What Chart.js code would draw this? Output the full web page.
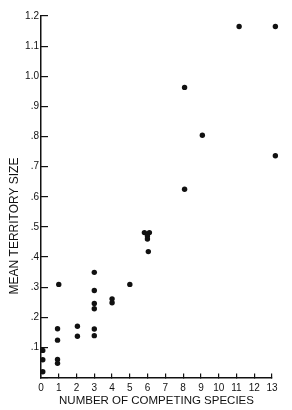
<!DOCTYPE html>
<html>
<head>
<meta charset="utf-8">
<script src="https://cdn.jsdelivr.net/npm/chart.js@4/dist/chart.umd.min.js"></script>
<style>
    html, body { margin: 0; padding: 0; background: #ffffff; }
    #territory_chart_box { width: 292px; height: 410px; }
</style>
</head>
<body>
<div id="territory_chart_box"><canvas id="territory_chart" width="292" height="410"></canvas></div>
<script>
// number of competing species (x) and mean territory size (y)
const competing_species = [
    0.1, 0.1, 0.1,
    1.0, 0.93, 0.93, 0.93, 0.93,
    2.05, 2.05,
    3, 3, 3, 3, 3, 3,
    4, 4,
    5,
    5.82, 6.1, 5.99, 5.99, 6.04,
    8.08, 8.08,
    9.08,
    11.15,
    13.19, 13.19
];
const mean_territory_size = [
    0.090, 0.059, 0.019,
    0.309, 0.162, 0.124, 0.060, 0.047,
    0.170, 0.137,
    0.349, 0.289, 0.246, 0.228, 0.161, 0.139,
    0.261, 0.248,
    0.309,
    0.481, 0.481, 0.470, 0.460, 0.418,
    0.963, 0.625,
    0.804,
    1.165,
    1.165, 0.736
];
const x_tick_labels = ['0', '1', '2', '3', '4', '5', '6', '7', '8', '9', '10', '11', '12', '13'];
const y_tick_labels = ['', '.1', '.2', '.3', '.4', '.5', '.6', '.7', '.8', '.9', '1.0', '1.1', '1.2'];

const x_title = 'NUMBER OF COMPETING SPECIES';
const y_title = 'MEAN TERRITORY SIZE';

const ink = '#111111';
const label_font = "'Liberation Sans', Arial, sans-serif";

const territory_points = competing_species.map((x, i) => ({ x: x, y: mean_territory_size[i] }));

// y title sits lower than the scale centre in the original, so draw it by hand
const y_title_plugin = {
    id: 'y_title_plugin',
    afterDraw(chart) {
        const ctx = chart.ctx;
        ctx.save();
        ctx.translate(15, 226);
        ctx.rotate(-Math.PI / 2);
        ctx.fillStyle = ink;
        ctx.font = '12px ' + label_font;
        ctx.textAlign = 'center';
        ctx.textBaseline = 'middle';
        ctx.fillText(y_title, 0, 0);
        ctx.restore();
    }
};

const territory_chart = document.getElementById('territory_chart');

new Chart(territory_chart, {
    type: 'scatter',
    data: {
        datasets: [{
            label: null,
            data: territory_points,
            backgroundColor: ink,
            borderColor: ink,
            borderWidth: 0,
            pointRadius: 2.7,
            clip: false
        }]
    },
    options: {
        responsive: false,
        animation: false,
        layout: {
            padding: { top: 16, right: 20, left: 0, bottom: 0 }
        },
        plugins: {
            legend: false,
            tooltip: { enabled: false }
        },
        scales: {
            x: {
                type: 'linear',
                min: 0,
                max: 13,
                afterFit: (scale) => { scale.height = 32.5; },
                border: { display: true, color: ink, width: 1.5 },
                grid: {
                    drawOnChartArea: false,
                    drawTicks: true,
                    tickLength: -4,
                    color: ink,
                    lineWidth: 1.2
                },
                ticks: {
                    stepSize: 1,
                    padding: 9,
                    maxRotation: 0,
                    autoSkip: false,
                    color: ink,
                    font: { family: label_font, size: 10 },
                    callback: (value, index) => x_tick_labels[index]
                },
                title: {
                    display: true,
                    text: x_title,
                    color: ink,
                    font: { family: label_font, size: 11.5 },
                    padding: { top: 0, bottom: 2 }
                }
            },
            y: {
                type: 'linear',
                min: 0,
                max: 1.2,
                afterFit: (scale) => { scale.width = 41; },
                border: { display: true, color: ink, width: 1.5 },
                grid: {
                    drawOnChartArea: false,
                    drawTicks: true,
                    tickLength: -7,
                    color: ink,
                    lineWidth: 1.2
                },
                ticks: {
                    stepSize: 0.1,
                    padding: 9,
                    autoSkip: false,
                    color: ink,
                    font: { family: label_font, size: 10 },
                    callback: (value, index) => y_tick_labels[index]
                }
            }
        }
    },
    plugins: [y_title_plugin]
});
</script>
</body>
</html>
